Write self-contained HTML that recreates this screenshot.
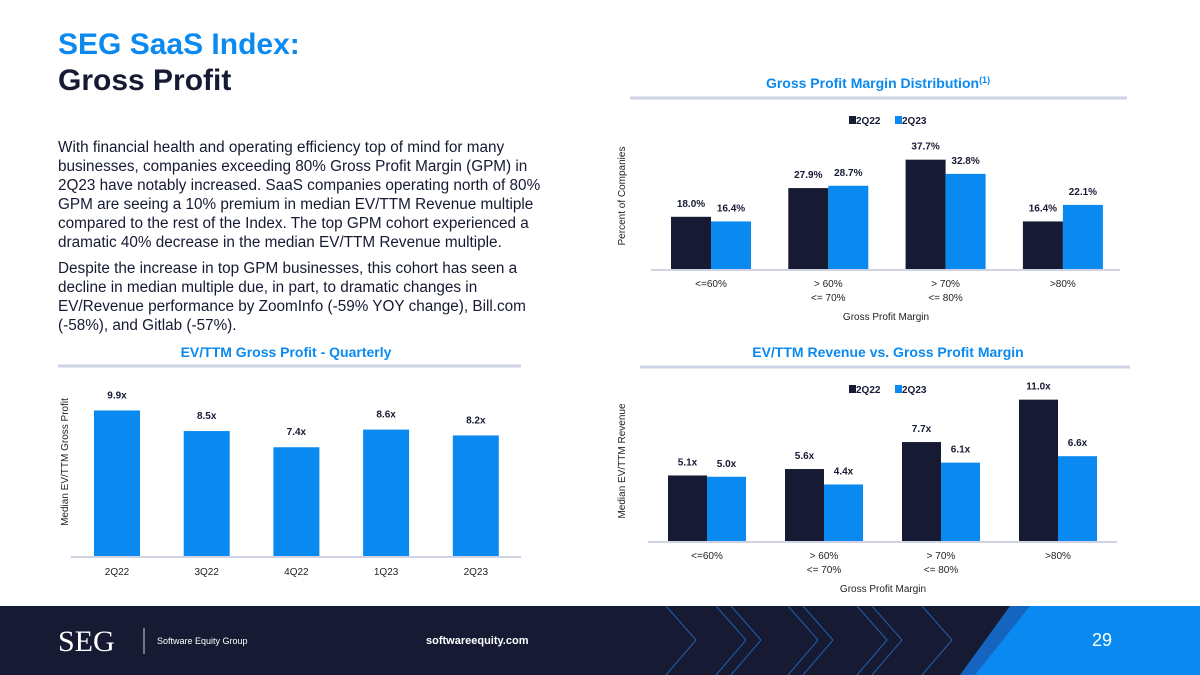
<!DOCTYPE html>
<html><head><meta charset="utf-8"><style>
body{margin:0;width:1200px;height:675px;overflow:hidden;background:#fff;font-family:"Liberation Sans",sans-serif;position:relative}
.t1{position:absolute;left:58px;top:28px;font-size:30px;font-weight:bold;color:#0a8af0}
.t2{position:absolute;left:58px;top:64px;font-size:30px;font-weight:bold;color:#161a33}
.body{position:absolute;left:58px;top:138px;width:494px;font-size:15.3px;line-height:19px;color:#161a33}
.body p{margin:0 0 7px 0}
svg{position:absolute;left:0;top:0}
</style></head><body>
<div class="t1">SEG SaaS Index:</div>
<div class="t2">Gross Profit</div>
<div class="body">
<p>With financial health and operating efficiency top of mind for many businesses, companies exceeding 80% Gross Profit Margin (GPM) in 2Q23 have notably increased. SaaS companies operating north of 80% GPM are seeing a 10% premium in median EV/TTM Revenue multiple compared to the rest of the Index. The top GPM cohort experienced a dramatic 40% decrease in the median EV/TTM Revenue multiple.</p>
<p>Despite the increase in top GPM businesses, this cohort has seen a decline in median multiple due, in part, to dramatic changes in EV/Revenue performance by ZoomInfo (-59% YOY change), Bill.com (-58%), and Gitlab (-57%).</p>
</div>
<svg id="chart" width="1200" height="675">
<rect x="0" y="606" width="1200" height="69" fill="#161a33"/>
<g stroke="#1f5fb0" stroke-width="1" fill="none">
<polyline points="666,606 696,640 666,675"/><polyline points="716,606 746,640 716,675"/><polyline points="731,606 761,640 731,675"/>
<polyline points="788,606 818,640 788,675"/><polyline points="803,606 833,640 803,675"/><polyline points="857,606 887,640 857,675"/><polyline points="872,606 902,640 872,675"/><polyline points="922,606 952,640 922,675"/>
</g>
<polygon points="1010,606 1040,606 1000,675 960,675" fill="#1565c0"/>
<polygon points="1030,606 1200,606 1200,675 975,675" fill="#0a8af0"/>
<text x="58" y="651" font-family="Liberation Serif" font-size="30" fill="#fff">SEG</text>
<line x1="144" y1="628" x2="144" y2="654" stroke="#fff" stroke-width="0.8"/>
<text x="157" y="644" font-size="9" fill="#fff">Software Equity Group</text>
<text x="426" y="644" font-size="11" font-weight="bold" fill="#fff">softwareequity.com</text>
<text x="1102" y="646" font-size="18" fill="#fff" text-anchor="middle">29</text>
</svg>
<script>
const gpmCats=["<=60%","> 60%|<= 70%","> 70%|<= 80%",">80%"];
const gpm22=[18.0,27.9,37.7,16.4];
const gpm23=[16.4,28.7,32.8,22.1];
const qCats=["2Q22","3Q22","4Q22","1Q23","2Q23"];
const qVals=[9.9,8.5,7.4,8.6,8.2];
const rev22=[5.1,5.6,7.7,11.0];
const rev23=[5.0,4.4,6.1,6.6];
const NS="http://www.w3.org/2000/svg";
const svg=document.getElementById('chart');
const DARK="#161a33",BLUE="#0a8af0";
function el(t,a,txt){const e=document.createElementNS(NS,t);for(const k in a)e.setAttribute(k,a[k]);if(txt!==undefined)e.textContent=txt;svg.appendChild(e);return e;}
function title(x,y,x1,x2,ly,s,sup){const t=el('text',{x:x,y:y,'text-anchor':'middle','font-size':14,'font-weight':'bold',fill:BLUE},s);


if(sup){const ts=document.createElementNS(NS,'tspan');ts.setAttribute('font-size',9);ts.setAttribute('dy',-5);ts.textContent=sup;t.appendChild(ts);}
el('line',{x1:x1,x2:x2,y1:ly,y2:ly,stroke:'#cfd3e3','stroke-width':3});}
function legend(x,y){const r1=el('rect',{x:x,y:y-8,width:7,height:8,fill:DARK});


el('text',{x:x+7,y:y,'font-size':10,'font-weight':'bold',fill:DARK},'2Q22');
const r2=el('rect',{x:x+46,y:y-8,width:7,height:8,fill:BLUE});


el('text',{x:x+53,y:y,'font-size':10,'font-weight':'bold',fill:DARK},'2Q23');}
function catLabel(cx,y,s){s.split('|').forEach((p,i)=>{const t=el('text',{x:cx,y:y+i*14,'text-anchor':'middle','font-size':10,fill:'#222'},p);

});}
function grouped(cats,a,b,c0,step,base,scale,bw,fmt,axX1,axX2,ytitle,ytx,yty){
 el('line',{x1:axX1,x2:axX2,y1:base+1,y2:base+1,stroke:'#cfd3e3','stroke-width':2});
 cats.forEach((c,i)=>{const cx=c0+i*step;
  [[a,DARK,-bw],[b,BLUE,0]].forEach(([arr,col,off],j)=>{const h=arr[i]*scale;
   const r=el('rect',{x:cx+off,y:base-h,width:bw,height:h,fill:col});
   
   
   const t=el('text',{x:cx+off+bw/2,y:base-h-10,'text-anchor':'middle','font-size':10,'font-weight':'bold',fill:DARK},fmt(arr[i]));
   
   });
  catLabel(cx,base+18,c);});
 const yt=el('text',{x:ytx,y:yty,'text-anchor':'middle','font-size':10,fill:'#222',transform:`rotate(-90 ${ytx} ${yty})`},ytitle);
 
 
}
title(878,88,630,1127,98,'Gross Profit Margin Distribution','(1)');
legend(849,124);
grouped(gpmCats,gpm22,gpm23,711,117.3,269,2.9,40,v=>v.toFixed(1)+'%',651,1120,'Percent of Companies',625,196);
let xt=el('text',{x:886,y:320,'text-anchor':'middle','font-size':10,fill:'#222'},'Gross Profit Margin');


title(888,357,640,1130,367,'EV/TTM Revenue vs. Gross Profit Margin');
legend(849,393);
grouped(gpmCats,rev22,rev23,707,117,541,12.85,39,v=>v.toFixed(1)+'x',648,1117,'Median EV/TTM Revenue',625,461);
xt=el('text',{x:883,y:592,'text-anchor':'middle','font-size':10,fill:'#222'},'Gross Profit Margin');


title(286,357,58,521,366,'EV/TTM Gross Profit - Quarterly');
el('line',{x1:71,x2:521,y1:557,y2:557,stroke:'#cfd3e3','stroke-width':2});
qCats.forEach((c,i)=>{const cx=117+i*89.7,h=qVals[i]*14.7;
 const r=el('rect',{x:cx-23,y:556-h,width:46,height:h,fill:BLUE});
 
 
 const t=el('text',{x:cx,y:556-h-12,'text-anchor':'middle','font-size':10,'font-weight':'bold',fill:DARK},qVals[i].toFixed(1)+'x');
 
 
 catLabel(cx,575,c);});
const yt=el('text',{x:68,y:462,'text-anchor':'middle','font-size':10,fill:'#222',transform:'rotate(-90 68 462)'},'Median EV/TTM Gross Profit');


</script>
</body></html>
